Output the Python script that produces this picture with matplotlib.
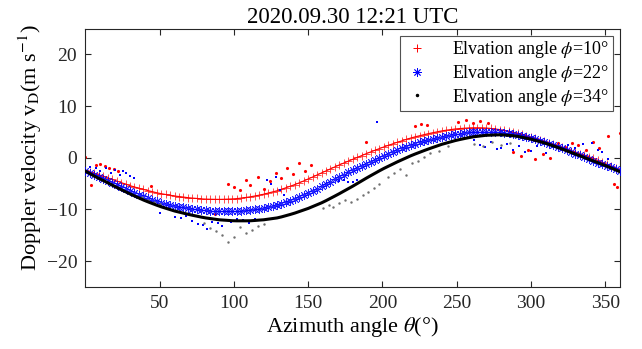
import numpy as np
import matplotlib
matplotlib.use('Agg')
import matplotlib.pyplot as plt
from matplotlib.lines import Line2D

plt.rcParams['font.family'] = ['Liberation Serif', 'DejaVu Serif']
plt.rcParams['mathtext.fontset'] = 'stix'

# fitted curves, read every 3 degrees of azimuth
az_fit = np.arange(0, 361, 3)
fit_10 = [-2.40, -2.70, -3.00, -3.30, -3.60, -3.90, -4.20, -4.50, -4.80, -5.10,
          -5.40, -5.65, -5.90, -6.13, -6.35, -6.55, -6.77, -6.95, -7.10, -7.25,
          -7.40, -7.50, -7.60, -7.72, -7.80, -7.87, -7.95, -8.00, -8.02, -8.04,
          -8.05, -8.03, -8.00, -7.96, -7.90, -7.80, -7.68, -7.55, -7.40, -7.23,
          -7.05, -6.83, -6.60, -6.38, -6.10, -5.80, -5.50, -5.18, -4.85, -4.48,
          -4.10, -3.72, -3.33, -2.93, -2.54, -2.15, -1.76, -1.38, -1.02, -0.66,
          -0.30, 0.06, 0.42, 0.78, 1.12, 1.45, 1.78, 2.10, 2.40, 2.70,
          3.00, 3.27, 3.54, 3.81, 4.05, 4.26, 4.47, 4.67, 4.85, 5.03,
          5.20, 5.33, 5.45, 5.57, 5.65, 5.71, 5.77, 5.80, 5.80, 5.79,
          5.75, 5.67, 5.57, 5.45, 5.30, 5.12, 4.93, 4.73, 4.50, 4.26,
          4.00, 3.74, 3.47, 3.20, 2.91, 2.60, 2.30, 2.00, 1.70, 1.40,
          1.10, 0.80, 0.50, 0.20, -0.14, -0.50, -0.86, -1.23, -1.62, -2.01,
          -2.40]
fit_22 = [-2.50, -2.89, -3.28, -3.67, -4.06, -4.45, -4.84, -5.23, -5.62, -6.01,
          -6.40, -6.76, -7.12, -7.48, -7.82, -8.12, -8.42, -8.68, -8.90, -9.10,
          -9.30, -9.45, -9.61, -9.76, -9.87, -9.98, -10.08, -10.17, -10.22, -10.27,
          -10.30, -10.31, -10.31, -10.30, -10.27, -10.21, -10.14, -10.07, -9.96, -9.83,
          -9.70, -9.52, -9.32, -9.12, -8.88, -8.58, -8.30, -7.98, -7.60, -7.23,
          -6.85, -6.40, -5.95, -5.50, -5.05, -4.60, -4.15, -3.70, -3.27, -2.84,
          -2.40, -1.98, -1.56, -1.14, -0.74, -0.35, 0.04, 0.42, 0.78, 1.14,
          1.50, 1.80, 2.10, 2.40, 2.68, 2.95, 3.22, 3.47, 3.68, 3.89,
          4.10, 4.25, 4.40, 4.55, 4.67, 4.78, 4.89, 4.96, 5.00, 5.03,
          5.05, 5.01, 4.96, 4.91, 4.83, 4.71, 4.59, 4.44, 4.23, 4.02,
          3.80, 3.53, 3.26, 2.99, 2.70, 2.40, 2.10, 1.79, 1.46, 1.13,
          0.80, 0.44, 0.08, -0.28, -0.61, -0.93, -1.24, -1.55, -1.87, -2.18,
          -2.50]
fit_34 = [-2.60, -3.08, -3.55, -4.00, -4.40, -4.85, -5.30, -5.74, -6.16, -6.58,
          -7.00, -7.39, -7.78, -8.17, -8.52, -8.85, -9.18, -9.49, -9.76, -10.03,
          -10.30, -10.51, -10.72, -10.93, -11.12, -11.30, -11.48, -11.64, -11.76, -11.88,
          -12.00, -12.06, -12.12, -12.18, -12.20, -12.20, -12.20, -12.19, -12.13, -12.06,
          -12.00, -11.88, -11.76, -11.64, -11.44, -11.20, -10.96, -10.70, -10.40, -10.10,
          -9.80, -9.44, -9.08, -8.72, -8.30, -7.85, -7.40, -6.94, -6.46, -5.98,
          -5.50, -4.99, -4.48, -3.97, -3.48, -3.00, -2.52, -2.06, -1.64, -1.22,
          -0.80, -0.41, -0.02, 0.37, 0.72, 1.05, 1.38, 1.70, 2.00, 2.30,
          2.60, 2.84, 3.08, 3.32, 3.52, 3.70, 3.88, 4.04, 4.15, 4.25,
          4.35, 4.38, 4.41, 4.44, 4.40, 4.33, 4.25, 4.14, 3.96, 3.78,
          3.60, 3.36, 3.12, 2.88, 2.60, 2.30, 2.00, 1.69, 1.36, 1.03,
          0.70, 0.37, 0.04, -0.29, -0.62, -0.95, -1.28, -1.62, -1.98, -2.34,
          -2.70]

# measured points that stand out from the fits
az_10 = [0, 4, 7, 10, 13, 16, 19, 22, 44, 87, 96, 100, 104, 108, 111, 116, 120,
         124, 128, 132, 136, 140, 144, 148, 152, 189, 222, 226, 230, 251, 256,
         261, 266, 271, 288, 293, 298, 303, 308, 313, 318, 323, 328, 332, 337,
         342, 346, 352, 356, 358, 360]
vd_10 = [0.2, -5.3, -1.4, -1.2, -1.6, -1.9, -2.1, -2.6, -5.4, -10.8, -5.0, -5.6,
         -6.3, -4.4, -5.2, -3.8, -6.0, -4.5, -2.9, -4.0, -1.9, -3.2, -1.0, -2.6,
         -1.4, 3.1, 6.1, 6.5, 6.4, 6.9, 7.3, 6.8, 7.1, 6.7, 1.1, 0.3, 1.5, -0.2,
         0.8, 0.0, 2.9, 2.1, 2.8, 2.5, 1.5, 3.0, 1.8, 4.2, -5.1, -5.7, 4.8]
az_22 = [3, 7, 10, 14, 17, 20, 23, 25, 27, 30, 33, 50, 60, 64, 68, 72, 76, 79,
         82, 85, 89, 92, 95, 98, 102, 106, 110, 114, 122, 125, 128, 131, 134,
         171, 174, 177, 180, 183, 196, 262, 266, 269, 273, 277, 280, 284, 288,
         292, 296, 300, 304, 310, 325, 330, 335, 341, 345, 348, 352]
vd_22 = [-1.8, -2.0, -2.6, -1.9, -2.9, -2.3, -3.4, -2.5, -3.0, -3.6, -4.0, -10.7,
         -11.4, -11.7, -11.2, -12.3, -12.8, -13.0, -13.7, -12.5, -12.7, -13.2,
         -12.0, -12.4, -11.9, -12.0, -12.6, -11.8, -4.3, -5.0, -3.7, -6.2, -7.3,
         -4.5, -4.3, -4.7, -4.6, -4.4, 6.9, 3.4, 2.4, 2.1, 3.0, 1.6, 1.8, 2.6,
         1.5, 2.3, 1.2, 1.4, 2.2, 0.9, 2.4, 1.9, 2.6, 2.8, 1.5, 1.2, -0.3]
az_34 = [38, 42, 46, 50, 80, 84, 88, 92, 96, 100, 104, 108, 112, 116, 120, 160,
         164, 167, 171, 175, 179, 183, 187, 190, 194, 198, 204, 208, 212, 216,
         220, 224, 228, 232, 238, 244, 262, 268, 274, 280, 286]
vd_34 = [-7.6, -8.2, -8.6, -8.9, -12.6, -13.5, -14.2, -15.0, -16.2, -15.4, -13.3,
         -14.6, -14.0, -13.2, -12.9, -9.8, -9.2, -9.5, -8.8, -8.2, -8.5, -8.0,
         -7.2, -6.6, -5.9, -5.0, -3.7, -3.0, -2.2, -3.4, -1.1, -0.7, 0.2, 0.9,
         1.3, 2.2, 2.7, 2.3, 3.0, 2.5, 2.9]

labels = ['Elvation angle $\\phi$=10°', 'Elvation angle $\\phi$=22°',
          'Elvation angle $\\phi$=34°']
xticks = [50, 100, 150, 200, 250, 300, 350]
yticks = [-20, -10, 0, 10, 20]

asterisk = (8, 2, 0)

fig = plt.figure(figsize=(6.42, 3.49), dpi=100)
ax = fig.add_axes([85.5 / 642, 62 / 349, 534.5 / 642, 258.5 / 349])

ax.plot(az_10, vd_10, '.', color='r', ms=2.5, zorder=2)
ax.plot(az_fit, fit_10, '+', color='r', ms=6, mew=0.6, alpha=0.8, zorder=2)
ax.plot(az_fit, fit_10, '-', color='r', lw=0.8, zorder=2)
ax.plot(az_22, vd_22, 's', color='b', ms=1.8, mew=0, zorder=3)
ax.plot(az_fit, fit_22, marker=asterisk, ls='none', color='b', ms=6.5,
        mew=0.6, alpha=0.85, zorder=3)
ax.plot(az_34, vd_34, '.', color='#707070', ms=1.5, zorder=4)
ax.plot(az_fit, fit_34, '-', color='k', lw=2.2, zorder=5)

ax.set_xlim(0, 360)
ax.set_ylim(-25, 25)
ax.set_xticks(xticks)
ax.set_yticks(yticks)
ax.tick_params(direction='in', top=True, right=True, length=4, width=0.8,
               labelsize=14, colors='#262626', pad=6)
for s in ax.spines.values():
    s.set_color('#262626')
    s.set_linewidth(0.8)

ax.set_title('2020.09.30 12:21 UTC', fontsize=16.5, pad=4)
ax.set_xlabel('Azimuth angle $\\theta$(°)', fontsize=16, labelpad=2)
ax.set_ylabel('Doppler velocity v$_\\mathrm{D}$(m s$^{-1}$)', fontsize=16)
ax.yaxis.set_label_coords(-0.077, 0.54)

handles = [Line2D([], [], ls='none', marker='+', color='r', ms=6, mew=0.7),
           Line2D([], [], ls='none', marker=asterisk, color='b', ms=6, mew=0.6),
           Line2D([], [], ls='none', marker='.', color='k', ms=3)]
leg = ax.legend(handles, labels, loc='upper right', fontsize=13,
                frameon=True, fancybox=False, borderaxespad=0.4,
                handlelength=1.5, handletextpad=1.2, borderpad=0.2,
                labelspacing=0.15)
leg.get_frame().set_edgecolor('#262626')
leg.get_frame().set_linewidth(0.8)

fig.savefig('out.png', dpi=100)
